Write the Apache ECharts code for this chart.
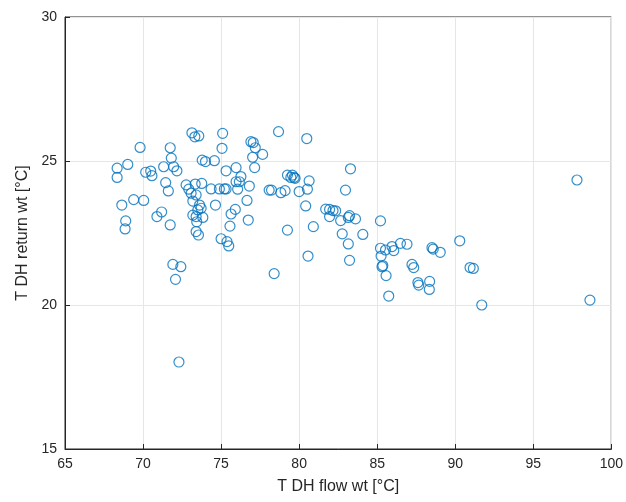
<!DOCTYPE html>
<html>
<head>
<meta charset="utf-8">
<script src="https://cdn.jsdelivr.net/npm/echarts@6/dist/echarts.min.js"></script>
<style>html,body{margin:0;padding:0;background:#fff}#chart{width:626px;height:502px}</style>
</head>
<body>
<div id="chart"></div>
<script>
// flow temperature (x) and return temperature (y)
const flowTemps = [
  68.34, 68.34, 69.02, 69.81, 68.64, 68.89, 68.85, 69.40, 70.04, 70.17, 70.49, 70.57,
  70.89, 71.19, 71.32, 71.45, 71.62, 71.74, 71.81, 71.96, 72.17, 71.74, 71.91, 72.42,
  72.08, 73.13, 73.32, 73.57, 72.76, 72.93, 73.34, 73.76, 73.08, 73.40, 73.19, 73.62,
  73.72, 73.51, 73.19, 73.40, 73.83, 73.44, 73.40, 73.55, 73.79, 74.00, 74.57, 74.36,
  74.64, 74.89, 75.21, 75.32, 75.10, 75.06, 75.32, 75.96, 76.27, 75.96, 76.17, 76.06,
  76.81, 76.66, 75.91, 75.64, 75.57, 76.74, 75.00, 75.38, 75.49, 76.91, 77.06, 77.19,
  77.66, 77.02, 77.15, 78.08, 72.30,
  78.68, 80.49, 83.29, 79.25, 79.57, 79.68, 79.47, 79.74, 80.64, 78.23, 78.83, 79.10,
  80.00, 80.53, 82.97, 80.42, 81.70, 81.95, 82.17, 82.34, 81.95, 82.66, 83.23, 83.15,
  83.61, 85.21, 79.25, 80.91, 82.76, 84.08, 83.15, 80.57, 83.23, 78.40, 85.21, 85.53,
  85.95, 86.06, 86.49, 86.91, 85.25, 85.36, 85.31, 85.57, 85.74, 87.23, 87.34, 88.51,
  88.59, 89.04, 90.29, 90.95, 91.16, 87.61, 87.66, 88.36, 88.34, 91.70, 97.80, 98.63
];
const returnTemps = [
  24.75, 24.43, 24.88, 25.47, 23.47, 22.92, 22.64, 23.66, 23.63, 24.61, 24.65, 24.49,
  23.07, 23.23, 24.80, 24.25, 23.96, 25.46, 25.10, 24.80, 24.66, 22.78, 21.41, 21.33,
  20.89, 25.98, 25.84, 25.87, 24.17, 24.02, 24.20, 24.22, 23.88, 23.82, 23.61, 23.47,
  23.36, 23.30, 23.12, 23.07, 23.04, 22.89, 22.55, 22.43, 25.03, 24.98, 25.01, 24.03,
  23.47, 24.03, 24.03, 24.03, 25.96, 25.44, 24.66, 24.77, 24.46, 24.28, 24.28, 24.02,
  24.13, 23.63, 23.32, 23.16, 22.74, 22.95, 22.30, 22.20, 22.05, 25.67, 25.64, 25.46,
  25.23, 25.13, 24.77, 23.99, 18.02,
  26.02, 25.78, 24.73, 24.51, 24.51, 24.43, 24.43, 24.40, 24.31, 23.99, 23.90, 23.97,
  23.94, 24.02, 23.99, 23.44, 23.33, 23.32, 23.28, 23.27, 23.07, 22.93, 23.10, 23.04,
  22.99, 22.92, 22.60, 22.72, 22.47, 22.45, 22.12, 21.70, 21.55, 21.09, 21.97, 21.91,
  22.03, 21.89, 22.14, 22.11, 21.70, 21.37, 21.33, 21.02, 20.31, 21.41, 21.30, 21.99,
  21.94, 21.83, 22.23, 21.30, 21.27, 20.78, 20.69, 20.82, 20.54, 20.00, 24.34, 20.17
];
const xTicks = [65, 70, 75, 80, 85, 90, 95, 100];
const yTicks = [15, 20, 25, 30];

const chart = echarts.init(document.getElementById('chart'));
const axisCommon = {
  axisLine: { show: true, onZero: false, lineStyle: { color: '#262626', width: 1 } },
  axisTick: { show: true, inside: true, length: 5, lineStyle: { color: '#262626' } },
  axisLabel: { color: '#262626', fontSize: 14, fontFamily: 'Liberation Sans' },
  splitLine: { show: true, lineStyle: { color: '#e6e6e6', width: 1 } },
  nameTextStyle: { color: '#262626', fontSize: 16, fontFamily: 'Liberation Sans' },
  nameLocation: 'middle'
};
chart.setOption({
  animation: false,
  grid: { left: 65, right: 12, top: 17, bottom: 53, show: true, borderColor: '#262626', borderWidth: 1 },
  xAxis: Object.assign({}, axisCommon, {
    type: 'value', min: xTicks[0], max: xTicks[xTicks.length - 1], interval: 5,
    name: 'T DH flow wt [°C]', nameGap: 30
  }),
  yAxis: Object.assign({}, axisCommon, {
    type: 'value', min: yTicks[0], max: yTicks[yTicks.length - 1], interval: 5,
    name: 'T DH return wt [°C]', nameGap: 33
  }),
  series: [{
    type: 'scatter',
    symbol: 'circle',
    symbolSize: 10,
    itemStyle: { color: 'rgba(0,0,0,0)', borderColor: '#0072BD', borderWidth: 1.2 },
    data: flowTemps.map((x, i) => [x, returnTemps[i]])
  }]
});
</script>
</body>
</html>
